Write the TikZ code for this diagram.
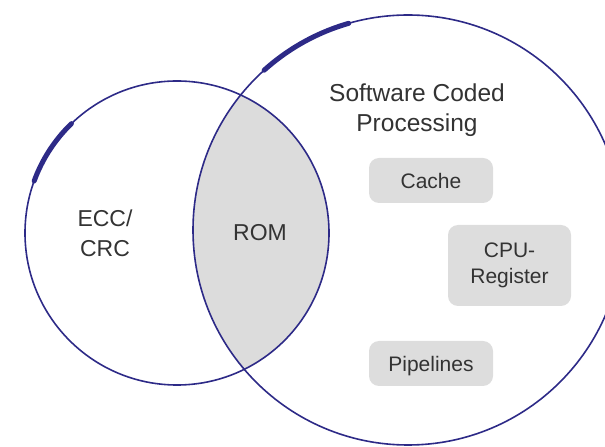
\documentclass[tikz,border=0pt]{standalone}
\usepackage{fontspec}
\setmainfont{Liberation Sans}
\definecolor{ringblue}{HTML}{2D2A87}
\definecolor{lensgray}{HTML}{DCDCDC}
\definecolor{boxgray}{HTML}{DDDDDD}
\definecolor{txt}{HTML}{333333}
\begin{document}
\begin{tikzpicture}[x=1pt,y=1pt,
  ring/.style={draw=ringblue,line width=1.6pt},
  ringmark/.style={draw=ringblue,line width=5pt,line cap=round},
  biglabel/.style={text=txt,font=\fontsize{23}{30}\selectfont,align=center,inner sep=0pt},
  itembox/.style={fill=boxgray,rounded corners=10pt,text=txt,font=\fontsize{21}{26}\selectfont,align=center,inner sep=0pt,minimum width=124pt}
]
\useasboundingbox (0,0) rectangle (605,447);
\coordinate (cl) at (177,214);
\coordinate (cr) at (408,217);
% lens
\begin{scope}
  \clip (cl) circle[radius=152pt];
  \fill[lensgray] (cr) circle[radius=215pt];
\end{scope}
% circles
\draw[ring] (cl) circle[radius=152pt];
\draw[ring] (cr) circle[radius=215pt];
% thick marks
\draw[ringmark] ([shift={(134:152pt)}]cl) arc[start angle=134,end angle=160,radius=152pt];
\draw[ringmark] ([shift={(106:215pt)}]cr) arc[start angle=106,end angle=132,radius=215pt];
% labels
\node[biglabel] (ecc) at (105,214) {ECC/\\CRC};
\node[biglabel] (rom) at (260,214) {ROM};
\node[biglabel,font=\fontsize{24.5}{30}\selectfont] (scp) at (417,337) {Software Coded\\Processing};
\node[itembox,minimum height=45pt] (cache) at (431,266.5) {Cache};
\node[itembox,minimum height=81pt,minimum width=123pt] (cpu) at (509.5,181.5) {CPU-\\Register};
\node[itembox,minimum height=45pt,text depth=0pt] (pipe) at (431,83.5) {Pipelines};
\end{tikzpicture}
\end{document}
